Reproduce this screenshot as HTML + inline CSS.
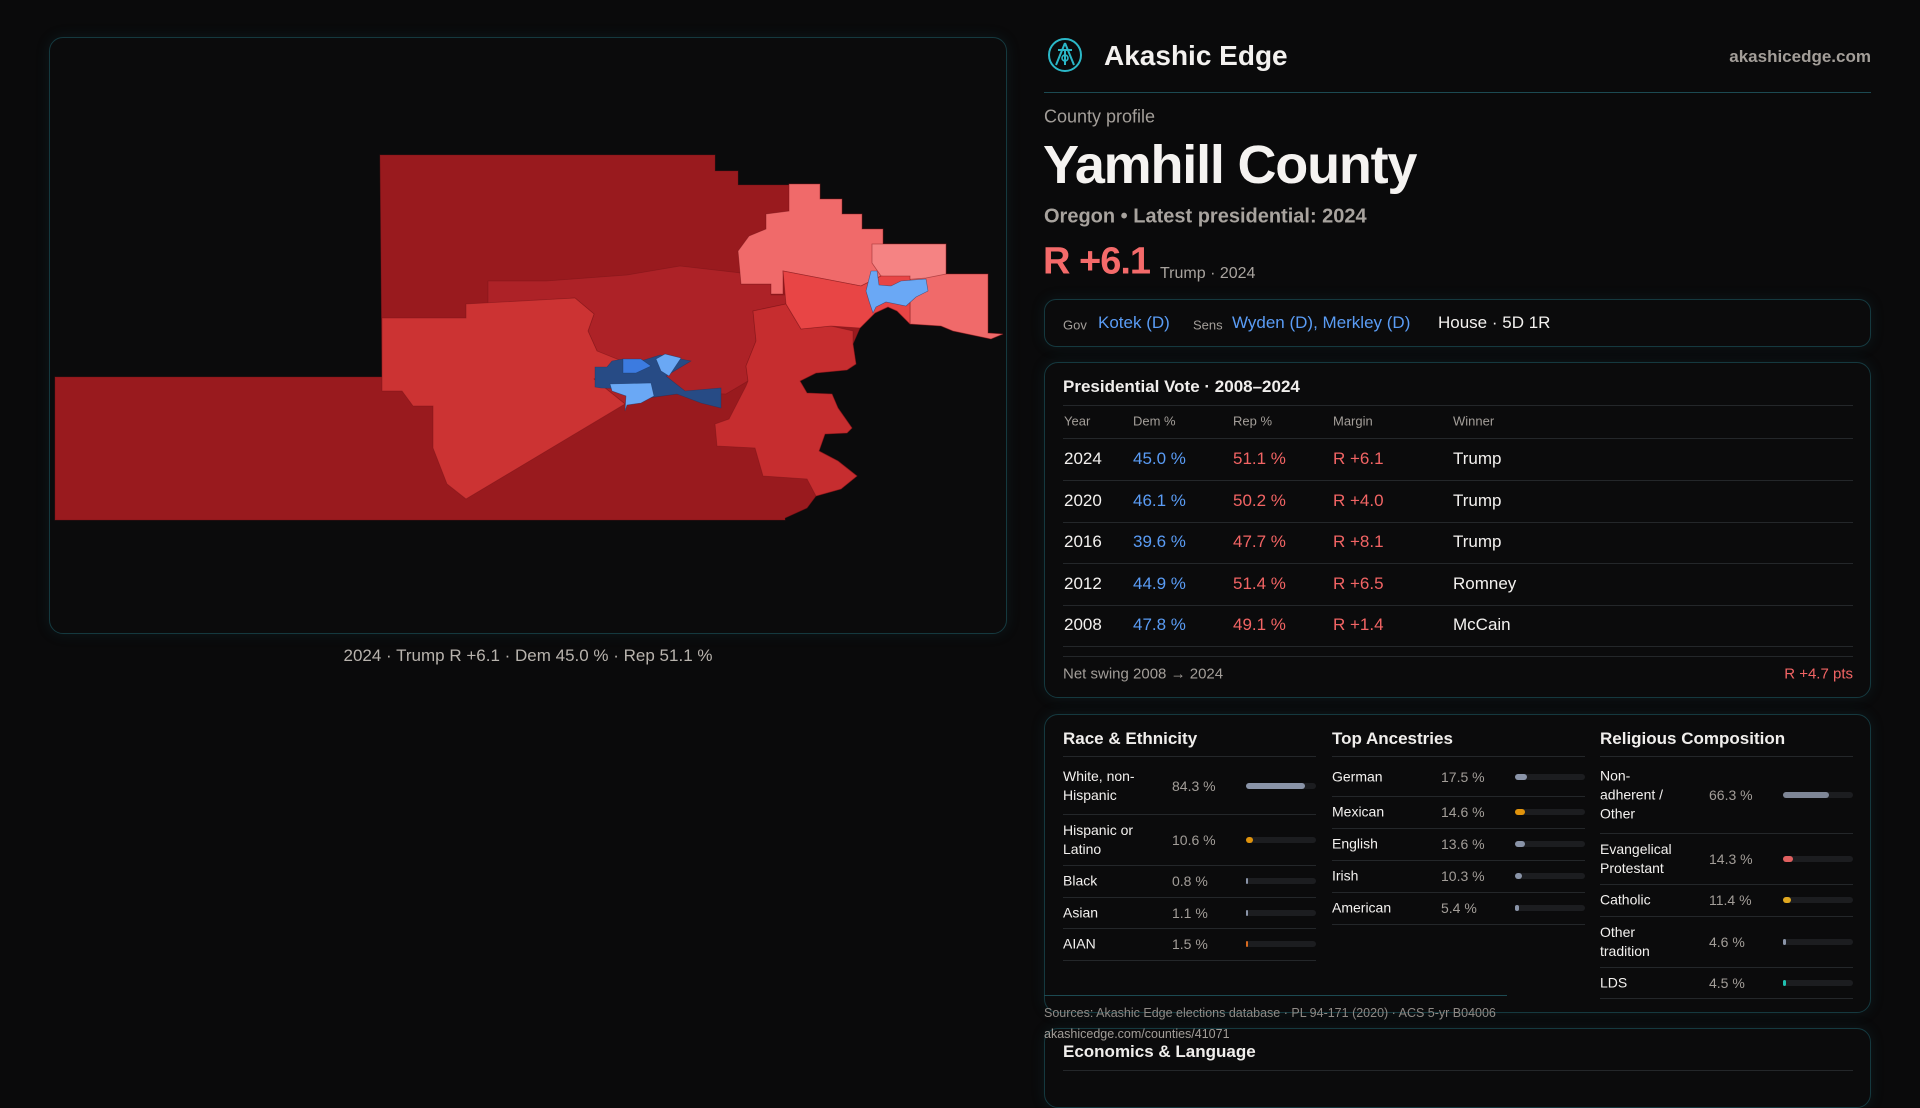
<!DOCTYPE html>
<html><head><meta charset="utf-8">
<style>
*{margin:0;padding:0;box-sizing:border-box}
body{width:1920px;height:1080px;background:#0a0a0b;font-family:"Liberation Sans",sans-serif;color:#f0eeec;position:relative;overflow:hidden}
.abs{position:absolute;white-space:nowrap}
.box{position:absolute;border:1px solid #15393f;border-radius:14px;background:#0b0b0c;box-shadow:0 0 14px rgba(30,90,100,0.18)}
.gray{color:#a39e99}
.blue{color:#5a9cf5}
.red{color:#f26464}
.hline{position:absolute;height:1px;background:#24272a}
.t{position:absolute;white-space:nowrap;transform:translateY(-50%)}
</style></head><body>

<div class="box" style="left:49px;top:37px;width:958px;height:597px;">
<svg width="958" height="597" viewBox="49 37 958 597" style="position:absolute;left:0;top:0">
<g stroke="#7a1417" stroke-width="0.8" stroke-opacity="0.5">
<polygon fill="#991a1e" points="379,154 714,154 714,170 737,170 737,184 788,184 788,183 819,183 819,198 841,198 841,213 861,213 861,228 882,228 882,243 945,243 945,273 987,273 987,332 1002,333 990,338 952,330 940,325 909,323 896,310 887,306 874,312 859,327 852,343 855,363 846,369 815,372 799,380 806,392 831,393 837,407 851,427 846,432 824,433 818,450 837,460 856,475 840,488 815,495 806,507 784,517 784,519 54,519 54,376 381,376"/>
<polygon fill="#ad2227" points="487,280 545,280 626,274 679,265 740,272 740,283 770,283 770,294 785,294 785,303 752,310 755,340 745,365 747,380 725,393 700,392 676,393 646,397 624,403 593,378 612,370 596,350 587,330 593,313 574,297 487,303"/>
<polygon fill="#cc3333" points="381,317 465,317 465,303 574,297 593,313 587,330 596,350 621,360 612,370 593,378 624,403 465,498 446,483 432,447 432,405 412,405 401,390 381,390"/>
<polygon fill="#c62d2f" points="752,310 785,303 800,328 830,325 852,330 852,343 855,363 846,369 815,372 799,380 806,392 831,393 837,407 851,427 846,432 824,433 818,450 837,460 856,475 840,488 815,495 806,478 762,475 754,447 716,445 714,423 728,418 745,385 747,380 745,365 755,340"/>
<polygon fill="#f06a6a" points="788,183 819,183 819,198 841,198 841,213 861,213 861,228 882,228 882,243 945,243 945,273 987,273 987,332 1002,333 990,338 952,330 940,325 909,323 909,275 880,275 860,285 782,270 782,293 770,293 770,283 740,283 737,250 748,235 765,228 765,213 788,210"/>
<polygon fill="#f58383" points="871,243 945,243 945,273 925,277 900,279 880,275 871,262"/>
<polygon fill="#e84545" points="782,270 860,285 880,275 909,275 909,323 896,310 887,306 874,312 859,327 830,325 800,328 785,303"/>
</g>
<g stroke="#1a3560" stroke-width="0.6" stroke-opacity="0.6">
<polygon fill="#6aa8f5" points="865,290 870,270 876,270 878,284 890,285 900,280 925,278 927,290 915,296 905,305 885,301 875,306 872,312 868,300"/>
<polygon fill="#274b85" points="594,378 594,366 606,366 611,360 622,358 640,360 659,354 690,360 665,375 684,390 720,387 720,407 700,402 676,393 646,397 640,388 600,387 594,386"/>
<polygon fill="#3c7be0" points="622,358 640,358 650,365 635,372 622,372"/>
<polygon fill="#6aa8f5" points="609,383 650,382 653,395 640,402 626,404 624,410 625,395 611,390"/>
<polygon fill="#6aa8f5" points="655,358 664,353 680,357 668,375 660,370"/>
</g>
</svg>
</div>
<div class="abs gray" style="left:528px;top:656px;transform:translate(-50%,-50%);font-size:17px;color:#b8b3ad">2024 · Trump R +6.1 · Dem 45.0 % · Rep 51.1 %</div>

<svg class="abs" style="left:1047px;top:37px" width="36" height="36" viewBox="0 0 36 36">
<circle cx="18" cy="18" r="16" fill="none" stroke="#2bb8c8" stroke-width="2"/>
<path d="M18 6 L9 28 M18 6 L27 28 M11 13 L25 13 M18 14 L18 28" stroke="#2bb8c8" stroke-width="2" fill="none"/>
<circle cx="18" cy="21" r="3" fill="none" stroke="#2bb8c8" stroke-width="1.6"/>
</svg>
<div class="t" style="left:1104px;top:56px;font-size:28px;font-weight:bold;color:#f3f1ef">Akashic Edge</div>
<div class="t gray" style="right:49px;top:57px;font-size:17px;font-weight:bold;color:#a39e99">akashicedge.com</div>
<div class="hline" style="left:1044px;top:92px;width:827px;background:#1c4a52"></div>

<div class="t gray" style="left:1044px;top:117px;font-size:18px">County profile</div>
<div class="t" style="left:1043px;top:165px;font-size:54px;font-weight:bold;letter-spacing:-1.2px;color:#f5f3f1">Yamhill County</div>
<div class="t gray" style="left:1044px;top:217px;font-size:20px;font-weight:bold;color:#a8a39e">Oregon • Latest presidential: 2024</div>
<div class="t red" style="left:1043px;top:262px;font-size:38px;font-weight:bold;color:#f46a6a;letter-spacing:-1px">R +6.1</div>
<div class="t gray" style="left:1160px;top:274px;font-size:16px;color:#a8a39e">Trump · 2024</div>

<div class="box" style="left:1044px;top:299px;width:827px;height:48px;border-radius:12px"></div>
<div class="t gray" style="left:1063px;top:325px;font-size:13px">Gov</div>
<div class="t blue" style="left:1098px;top:323px;font-size:17px">Kotek (D)</div>
<div class="t gray" style="left:1193px;top:325px;font-size:13px">Sens</div>
<div class="t blue" style="left:1232px;top:323px;font-size:17px">Wyden (D), Merkley (D)</div>
<div class="t" style="left:1438px;top:323px;font-size:17px;color:#f3f1ef">House · 5D 1R</div>

<div class="box" style="left:1044px;top:362px;width:827px;height:336px;border-radius:14px"></div>
<div class="t" style="left:1063px;top:387px;font-size:17px;font-weight:bold">Presidential Vote · 2008–2024</div>
<div class="hline" style="left:1063px;top:405px;width:790px"></div>
<div id="ptable"></div>
<div class="hline" style="left:1063px;top:656px;width:790px"></div>
<div class="t gray" style="left:1063px;top:674px;font-size:15px">Net swing 2008 → 2024</div>
<div class="t red" style="right:67px;top:674px;font-size:15px">R +4.7 pts</div>

<div class="box" style="left:1044px;top:714px;width:827px;height:299px;border-radius:14px"></div>
<div id="demo"></div>
<div class="hline" style="left:1044px;top:995px;width:463px;background:#1c4a52"></div>
<div class="t gray" style="left:1044px;top:1013px;font-size:12.5px;color:#8f8a86">Sources: Akashic Edge elections database · PL 94-171 (2020) · ACS 5-yr B04006</div>
<div class="box" style="left:1044px;top:1028px;width:827px;height:80px;border-radius:14px"></div>
<div class="t gray" style="left:1044px;top:1034px;font-size:12.5px;color:#a39e99">akashicedge.com/counties/41071</div>
<div class="t" style="left:1063px;top:1052px;font-size:17px;font-weight:bold">Economics &amp; Language</div>
<div class="hline" style="left:1063px;top:1070px;width:790px"></div>

<script>
const years = [2024, 2020, 2016, 2012, 2008];
const demPct = [45.0, 46.1, 39.6, 44.9, 47.8];
const repPct = [51.1, 50.2, 47.7, 51.4, 49.1];
const marginPts = [6.1, 4.0, 8.1, 6.5, 1.4];
const marginParty = ["R", "R", "R", "R", "R"];
const winners = ["Trump", "Trump", "Trump", "Romney", "McCain"];

const raceLabels = ["White, non-\nHispanic", "Hispanic or\nLatino", "Black", "Asian", "AIAN"];
const raceValues = [84.3, 10.6, 0.8, 1.1, 1.5];
const ancestryLabels = ["German", "Mexican", "English", "Irish", "American"];
const ancestryValues = [17.5, 14.6, 13.6, 10.3, 5.4];
const religionLabels = ["Non-\nadherent /\nOther", "Evangelical\nProtestant", "Catholic", "Other\ntradition", "LDS"];
const religionValues = [66.3, 14.3, 11.4, 4.6, 4.5];

function mk(parent, cls, css, text) {
  const d = document.createElement('div');
  d.className = cls; d.style.cssText = css;
  if (text !== undefined) d.textContent = text;
  parent.appendChild(d); return d;
}
const pt = document.getElementById('ptable');
const cols = [1064, 1133, 1233, 1333, 1453];
const heads = ["Year", "Dem %", "Rep %", "Margin", "Winner"];
heads.forEach((h, i) => {
  const el = mk(pt, 't gray', `left:${cols[i]}px;top:421px;font-size:13px`, h);
  
  
});
const rowY0 = 459, rowH = 41.5;
const l0 = mk(pt, 'hline', `left:1063px;top:438px;width:790px`);


years.forEach((y, i) => {
  const cy = rowY0 + i * rowH;
  const mt = marginParty[i] + ' +' + marginPts[i].toFixed(1);
  const mc = marginParty[i] === 'R' ? '#f26464' : '#5a9cf5';
  const cells = [[String(y), '#f3f1ef'], [demPct[i].toFixed(1) + ' %', '#5a9cf5'], [repPct[i].toFixed(1) + ' %', '#f26464'], [mt, mc], [winners[i], '#f3f1ef']];
  cells.forEach((c, j) => {
    const el = mk(pt, 't', `left:${cols[j]}px;top:${cy}px;font-size:17px;color:${c[1]}`, c[0]);
    
    
  });
  const ln = mk(pt, 'hline', `left:1063px;top:${cy + 21}px;width:790px`);
  
  
});

const demo = document.getElementById('demo');
function section(title, x, labels, values, colors, rowHeights) {
  const t = mk(demo, 't', `left:${x}px;top:739px;font-size:17px;font-weight:bold`, title);
  
  
  const r = mk(demo, 'hline', `left:${x}px;top:756px;width:253px`);
  
  
  let y = 757;
  labels.forEach((lab, i) => {
    const h = rowHeights[i];
    const cy = y + h / 2;
    const le = mk(demo, 't', `left:${x}px;top:${cy}px;font-size:14px;line-height:19px;white-space:pre;color:#f3f1ef`, lab);
    
    
    const ve = mk(demo, 't gray', `left:${x + 109}px;top:${cy}px;font-size:14px`, values[i].toFixed(1) + ' %');
    
    
    const track = mk(demo, 'abs', `left:${x + 183}px;top:${cy - 3}px;width:70px;height:6px;border-radius:3px;background:#1c1d20`);
    
    
    const w = Math.max(values[i] / 100 * 70, values[i] >= 4 ? 3 : 0);
    if (w > 0 || i === 4) {
      const fill = mk(track, 'abs', `left:0;top:0;height:6px;border-radius:3px;width:${Math.max(w, 1.5)}px;background:${colors[i]}`);
      
      
    }
    y += h;
    const rl = mk(demo, 'hline', `left:${x}px;top:${y}px;width:253px`);
    
    
  });
}
section("Race & Ethnicity", 1063, raceLabels, raceValues, ["#8a94a8", "#e0930c", "#8a94a8", "#8a94a8", "#d86a20"], [57, 51, 32, 31, 32]);
section("Top Ancestries", 1332, ancestryLabels, ancestryValues, ["#8a94a8", "#e0930c", "#8a94a8", "#8a94a8", "#8a94a8"], [39, 32, 32, 32, 32]);
section("Religious Composition", 1600, religionLabels, religionValues, ["#7e8696", "#e06060", "#e0a820", "#8a94a8", "#20c0b0"], [76, 51, 32, 51, 31]);
</script>
</body></html>
